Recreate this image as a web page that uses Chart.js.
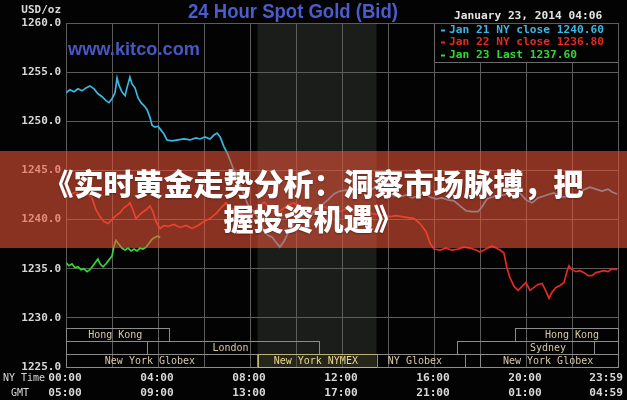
<!DOCTYPE html>
<html>
<head>
<meta charset="utf-8">
<script src="https://cdn.jsdelivr.net/npm/chart.js@4/dist/chart.umd.min.js"></script>
<style>
  html, body { margin:0; padding:0; background:#000; }
  #wrap { position:relative; width:627px; height:400px; overflow:hidden; background:#000; }
  #c { position:absolute; left:0; top:0; }
  #band {
    position:absolute; left:0; top:151px; width:627px; height:97px;
    background:rgba(236,84,56,0.58);
    display:flex; flex-direction:column; align-items:center; justify-content:center;
    color:#fff; font-family:"Noto Sans CJK SC", sans-serif; font-weight:900;
    font-size:30px; line-height:35px; text-align:center;
    text-shadow:0 1px 2px rgba(0,0,0,0.35);
  }
</style>
</head>
<body>
<div id="wrap">
  <canvas id="c" width="627" height="400"></canvas>
  <div id="band"><div>《实时黄金走势分析：洞察市场脉搏，把</div><div>握投资机遇》</div></div>
</div>
<script>
// ---------- data (hours in NY time, price USD/oz) ----------
const jan21Hours = [0,0.17,0.35,0.52,0.7,0.87,1.04,1.22,1.39,1.57,1.74,1.87,2.0,2.13,2.22,2.3,2.43,2.57,2.65,2.78,2.87,3.0,3.13,3.26,3.39,3.52,3.65,3.74,3.87,4.0,4.13,4.26,4.39,4.61,4.87,5.13,5.39,5.65,5.83,6.04,6.26,6.43,6.57,6.7,6.87,7.04,7.22,7.39,7.57,7.74,7.91,8.09,8.26,8.43,8.61,8.78,8.96,9.13,9.3,9.48,9.65,9.83,10.0,10.17,10.39,10.61,10.87,11.13,11.39,11.65,11.91,12.17,12.43,12.7,12.96,13.22,13.48,13.74,14.0,14.26,14.52,14.78,15.04,15.3,15.57,15.83,16.09,16.35,16.61,16.87,17.13,17.39,17.65,17.91,18.09,18.3,18.52,18.78,19.04,19.3,19.57,19.74,20.0,20.26,20.52,20.78,21.04,21.22,21.48,21.74,22.0,22.22,22.48,22.78,23.04,23.3,23.57,23.74,23.96];
const jan21Prices = [1252.9,1253.2,1253.0,1253.3,1253.1,1253.4,1253.6,1253.3,1252.8,1252.5,1252.1,1251.9,1252.3,1252.9,1254.4,1253.7,1253.0,1252.6,1253.4,1254.5,1253.8,1253.4,1252.4,1251.9,1251.6,1251.2,1250.4,1249.6,1249.4,1249.5,1249.1,1248.7,1248.1,1248.0,1248.1,1248.2,1248.1,1248.3,1248.2,1248.4,1248.2,1248.6,1248.8,1248.4,1247.4,1246.6,1245.5,1244.5,1243.5,1242.5,1241.5,1241.0,1240.5,1239.8,1238.8,1238.4,1238.2,1237.7,1237.2,1237.8,1238.6,1239.4,1239.8,1240.2,1240.6,1240.4,1241.0,1241.5,1242.0,1242.6,1242.9,1243.0,1242.8,1243.1,1243.2,1243.0,1243.3,1243.1,1242.8,1242.4,1242.3,1242.5,1242.2,1242.4,1242.7,1242.3,1242.1,1242.2,1242.0,1241.9,1241.4,1240.9,1240.8,1240.8,1241.3,1242.1,1242.3,1242.4,1242.5,1242.7,1242.6,1242.7,1242.0,1241.7,1242.2,1242.4,1242.6,1242.7,1242.3,1242.3,1242.6,1242.4,1243.0,1243.3,1243.1,1242.9,1243.1,1242.8,1242.6];

const jan22Hours = [0,0.17,0.43,0.7,0.96,1.13,1.3,1.48,1.65,1.83,2.0,2.17,2.35,2.52,2.7,2.78,2.91,3.04,3.17,3.3,3.48,3.65,3.78,3.91,4.09,4.26,4.43,4.7,4.96,5.22,5.48,5.74,6.0,6.26,6.52,6.78,6.96,7.13,7.39,7.65,7.91,8.17,8.43,8.61,8.87,9.13,9.39,9.65,9.91,10.17,10.43,10.7,10.96,11.22,11.48,11.74,12.0,12.26,12.52,12.78,13.04,13.3,13.57,13.83,14.09,14.35,14.61,14.87,15.13,15.39,15.65,15.83,16.0,16.26,16.52,16.78,17.04,17.3,17.57,17.83,18.0,18.26,18.52,18.7,18.87,19.04,19.17,19.3,19.48,19.65,19.83,20.0,20.17,20.35,20.52,20.7,20.87,21.0,21.13,21.3,21.48,21.65,21.78,21.87,22.0,22.17,22.35,22.52,22.7,22.87,23.04,23.22,23.39,23.57,23.74,23.96];
const jan22Prices = [1242.7,1242.5,1242.8,1242.4,1242.6,1242.2,1241.0,1240.3,1239.8,1239.6,1240.0,1240.4,1240.7,1241.2,1241.5,1241.7,1241.0,1240.1,1240.4,1240.7,1241.0,1241.4,1240.8,1239.8,1239.1,1239.4,1239.3,1239.5,1239.2,1239.4,1239.1,1239.4,1239.8,1240.1,1240.6,1241.3,1241.7,1241.2,1240.9,1240.5,1240.1,1240.6,1241.4,1241.8,1241.2,1240.7,1241.0,1241.5,1241.7,1241.1,1240.6,1240.8,1241.1,1241.3,1241.0,1240.7,1240.9,1241.1,1240.8,1240.6,1240.8,1240.6,1240.5,1240.4,1240.3,1240.4,1240.3,1240.2,1240.1,1239.6,1238.8,1237.6,1237.0,1236.9,1237.1,1236.9,1237.0,1237.2,1237.1,1236.9,1236.7,1237.0,1237.3,1237.1,1236.9,1236.6,1235.1,1234.1,1233.2,1232.8,1233.2,1233.6,1232.8,1233.1,1233.4,1233.5,1232.7,1232.0,1232.6,1233.1,1233.3,1233.6,1234.7,1235.3,1234.9,1234.7,1234.8,1234.6,1234.3,1234.3,1234.6,1234.7,1234.8,1234.7,1235.0,1234.9];

const jan23Hours = [0,0.13,0.26,0.39,0.52,0.65,0.78,0.91,1.04,1.17,1.3,1.39,1.48,1.61,1.74,1.87,2.0,2.09,2.17,2.3,2.43,2.57,2.7,2.83,2.96,3.09,3.22,3.35,3.48,3.61,3.74,3.87,4.0,4.1];
const jan23Prices = [1235.6,1235.3,1235.5,1235.1,1235.2,1234.9,1235.0,1234.7,1234.9,1235.3,1235.7,1236.0,1235.5,1235.2,1235.5,1235.9,1236.3,1237.3,1237.9,1237.5,1237.1,1236.9,1237.1,1236.8,1237.0,1236.8,1237.1,1237.0,1237.2,1237.6,1238.0,1238.2,1238.3,1238.2];

const seriesColors = ['#3cb6e2', '#e42a22', '#34d834'];
const legendLabels = ['Jan 21 NY close 1240.60', 'Jan 22 NY close 1236.80', 'Jan 23 Last 1237.60'];
const timestamp = 'January 23, 2014 04:06';

const tickHours = [0, 4, 8, 12, 16, 20, 24];
const nyTimeLabels = ['00:00', '04:00', '08:00', '12:00', '16:00', '20:00', '23:59'];
const gmtLabels = ['05:00', '09:00', '13:00', '17:00', '21:00', '01:00', '04:59'];

const shadedHours = [8.33, 13.5];

const sessionLabels = ['Hong Kong', 'Hong Kong', '', 'London', 'Sydney', '', 'New York Globex', 'New York NYMEX', 'NY Globex', '', 'New York Globex'];
const sessionRows   = [0, 0, 1, 1, 1, 1, 2, 2, 2, 2, 2];
const sessionStart  = [0, 19.52, 0, 3.52, 17.0, 22.96, 0, 8.33, 13.5, 17.35, 18.0];
const sessionEnd    = [4.48, 24, 3.52, 11.0, 22.96, 24, 8.3, 13.5, 17.35, 18.0, 24];
const sessionTextAt = [2.14, 22.0, 0, 7.15, 20.96, 0, 3.65, 10.86, 15.17, 0, 20.96];

// ---------- plugins ----------
const MONO = '"DejaVu Sans Mono", "Liberation Mono", monospace';

const backPlugin = {
  id: 'back',
  beforeDraw(chart) {
    const { ctx, chartArea: a, scales: { x } } = chart;
    ctx.save();
    ctx.fillStyle = '#030303';
    ctx.fillRect(0, 0, chart.width, chart.height);
    const x1 = x.getPixelForValue(shadedHours[0]);
    const x2 = x.getPixelForValue(shadedHours[1]);
    ctx.fillStyle = '#1b1d1b';
    ctx.fillRect(x1, a.top, x2 - x1, a.bottom - a.top);
    ctx.restore();
  }
};

function fitText(ctx, text, cx, cy, font, color, targetW) {
  ctx.save();
  ctx.font = font;
  const w = ctx.measureText(text).width;
  const s = targetW / w;
  ctx.translate(cx, cy);
  ctx.scale(s, 1);
  ctx.fillStyle = color;
  ctx.textAlign = 'center';
  ctx.textBaseline = 'middle';
  ctx.fillText(text, 0, 0);
  ctx.restore();
}

const frontPlugin = {
  id: 'front',
  afterDatasetsDraw(chart) {
    const { ctx, chartArea: a, scales: { x } } = chart;
    ctx.save();
    const rowH = 13;
    ctx.lineWidth = 1;
    ctx.textBaseline = 'middle';
    ctx.font = '10px ' + MONO;
    for (let i = 0; i < sessionLabels.length; i++) {
      const top = a.bottom - rowH * (3 - sessionRows[i]);
      const x1 = Math.round(x.getPixelForValue(sessionStart[i]));
      const x2 = Math.round(x.getPixelForValue(sessionEnd[i]));
      const isNymex = sessionLabels[i] === 'New York NYMEX';
      if (isNymex) {
        ctx.fillStyle = 'rgba(60,58,30,0.35)';
        ctx.fillRect(x1, top, x2 - x1, rowH);
      }
      ctx.strokeStyle = isNymex ? '#bdb27c' : '#8c8c8c';
      ctx.strokeRect(x1 + 0.5, top + 0.5, x2 - x1, rowH);
      if (sessionLabels[i]) {
        ctx.fillStyle = isNymex ? '#e6d88e' : '#d8c8a6';
        ctx.textAlign = 'center';
        ctx.fillText(sessionLabels[i], x.getPixelForValue(sessionTextAt[i]), top + rowH / 2 + 1);
      }
    }
    ctx.restore();
  },
  afterDraw(chart) {
    const { ctx, chartArea: a, scales: { x } } = chart;
    ctx.save();
    const lx = 434;
    ctx.fillStyle = '#030303';
    ctx.fillRect(lx, a.top + 1, a.right - lx, 62 - a.top);
    ctx.strokeStyle = '#6a6a6a';
    ctx.lineWidth = 1;
    ctx.beginPath();
    ctx.moveTo(lx + 0.5, a.top);
    ctx.lineTo(lx + 0.5, 62.5);
    ctx.lineTo(a.right, 62.5);
    ctx.stroke();
    ctx.font = 'bold 11.2px ' + MONO;
    ctx.textBaseline = 'middle';
    ctx.textAlign = 'left';
    const ly = [30.5, 42.5, 55.5];
    for (let i = 0; i < legendLabels.length; i++) {
      ctx.fillStyle = seriesColors[i];
      ctx.fillRect(441, ly[i] - 1, 4, 2);
      ctx.fillText(legendLabels[i], 449, ly[i]);
    }
    ctx.fillStyle = '#e4e4e4';
    ctx.font = 'bold 11.2px ' + MONO;
    ctx.fillText(timestamp, 454, 16);
    fitText(ctx, '24 Hour Spot Gold (Bid)', 293, 12.5, 'bold 21px "Liberation Sans", Arial, sans-serif', '#4b5ccc', 210);
    fitText(ctx, 'www.kitco.com', 134, 50, 'bold 19px "Liberation Sans", Arial, sans-serif', '#4757c4', 132);
    ctx.fillStyle = '#d8d8d8';
    ctx.font = 'bold 11px ' + MONO;
    ctx.textAlign = 'right';
    ctx.fillText('USD/oz', 61, 10);
    ctx.font = '10px ' + MONO;
    ctx.textAlign = 'center';
    ctx.fillText('NY Time', 24, 378);
    ctx.fillText('GMT', 20, 393);
    ctx.font = 'bold 11.2px ' + MONO;
    for (let i = 0; i < tickHours.length; i++) {
      const last = i === tickHours.length - 1;
      const px = last ? a.right + 5 : x.getPixelForValue(tickHours[i]) - 1;
      ctx.textAlign = last ? 'right' : 'center';
      ctx.fillText(nyTimeLabels[i], px, 378);
      ctx.fillText(gmtLabels[i], px, 393);
    }
    ctx.restore();
  }
};

const toPts = (hs, ps) => hs.map((h, i) => ({ x: h, y: ps[i] }));

new Chart(document.getElementById('c'), {
  type: 'line',
  data: {
    datasets: [
      { label: 'Jan 21', data: toPts(jan21Hours, jan21Prices), borderColor: seriesColors[0] },
      { label: 'Jan 22', data: toPts(jan22Hours, jan22Prices), borderColor: seriesColors[1] },
      { label: 'Jan 23', data: toPts(jan23Hours, jan23Prices), borderColor: seriesColors[2] }
    ].map(d => Object.assign(d, { borderWidth: 1.7, pointRadius: 0, tension: 0, fill: false }))
  },
  options: {
    responsive: false,
    animation: false,
    layout: { padding: { top: 23, right: 9, left: 0, bottom: 0 } },
    plugins: { legend: { display: false }, tooltip: { enabled: false }, title: { display: false } },
    scales: {
      x: {
        type: 'linear', min: 0, max: 24,
        ticks: { display: false, stepSize: 2 },
        grid: { color: '#5c5c5c', lineWidth: 1, drawTicks: false },
        border: { color: '#5c5c5c' },
        afterFit(s) { s.height = 33; }
      },
      y: {
        min: 1225, max: 1260,
        ticks: {
          stepSize: 5, padding: 5, color: '#d8d8d8',
          font: { family: '"DejaVu Sans Mono", monospace', size: 11, weight: 'bold' },
          callback: v => v.toFixed(1)
        },
        grid: { color: '#5c5c5c', lineWidth: 1, drawTicks: false },
        border: { color: '#5c5c5c' },
        afterFit(s) { s.width = 66; }
      }
    }
  },
  plugins: [backPlugin, frontPlugin]
});
</script>
</body>
</html>
